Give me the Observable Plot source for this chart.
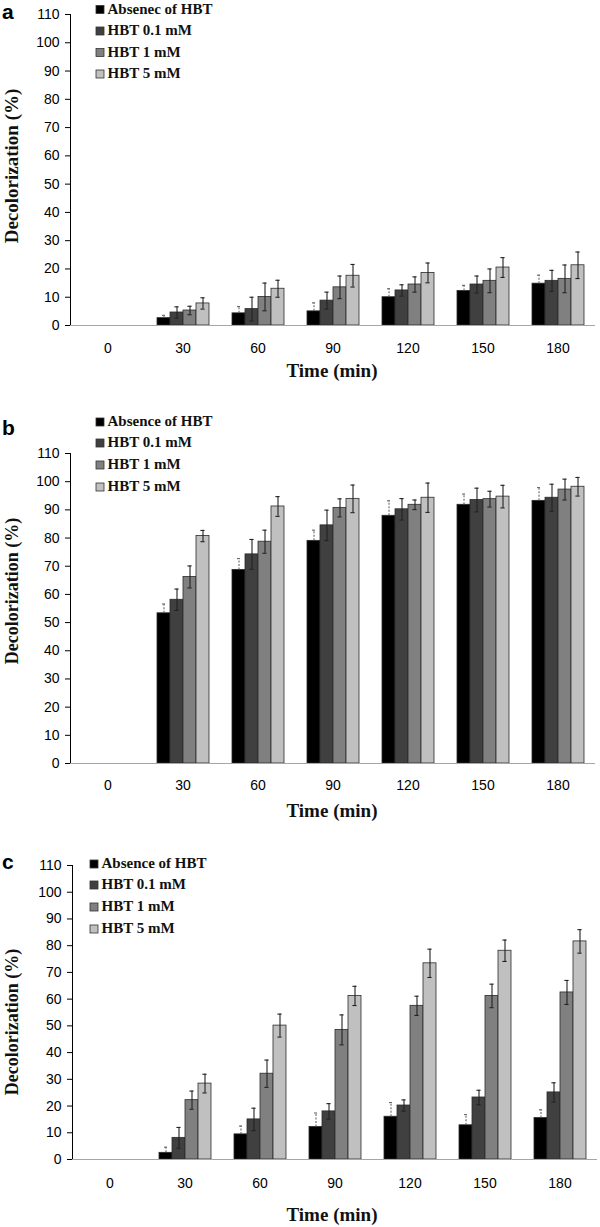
<!DOCTYPE html>
<html>
<head>
<meta charset="utf-8">
<script src="https://cdn.jsdelivr.net/npm/d3@7"></script>
<script src="https://cdn.jsdelivr.net/npm/@observablehq/plot@0.6"></script>
<style>
  body { margin: 0; background: #fff; }
  #root { position: relative; width: 600px; height: 1227px; overflow: hidden; background: #fff; }
  .panel { position: absolute; left: 0; width: 600px; }
  .panel > svg { position: absolute; left: 0; top: 0; overflow: visible; }
  g[aria-label="y-axis tick"] { stroke: #9a9a9a; }
  g[aria-label="frame"] { stroke: #9a9a9a; }
</style>
</head>
<body>
<div id="root"></div>
<script>
// ---------- data ----------
const times = ["0", "30", "60", "90", "120", "150", "180"];
const seriesA = ["Absenec of HBT", "HBT 0.1 mM", "HBT 1 mM", "HBT 5 mM"];
const seriesBC = ["Absence of HBT", "HBT 0.1 mM", "HBT 1 mM", "HBT 5 mM"];
const grays = ["#000000", "#404040", "#808080", "#c0c0c0"];
const yTicks = [0, 10, 20, 30, 40, 50, 60, 70, 80, 90, 100, 110];

// panel a
const aAbsence = [0, 2.6, 4.3, 5.0, 10.0, 12.2, 14.8];
const aHBT01   = [0, 4.6, 5.8, 8.8, 12.4, 14.5, 15.8];
const aHBT1    = [0, 5.3, 10.1, 13.5, 14.5, 15.8, 16.5];
const aHBT5    = [0, 7.8, 13.0, 17.6, 18.6, 20.5, 21.3];
const aAbsenceErr = [0, 1.0, 2.4, 3.0, 3.0, 2.0, 3.0];
const aHBT01Err   = [0, 2.0, 4.2, 3.0, 2.0, 3.0, 3.7];
const aHBT1Err    = [0, 1.5, 4.9, 4.0, 2.7, 4.2, 4.9];
const aHBT5Err    = [0, 2.0, 3.0, 4.0, 3.5, 3.5, 4.7];

// panel b
const bAbsence = [0, 53.3, 68.7, 79.0, 87.9, 91.8, 93.2];
const bHBT01   = [0, 58.1, 74.2, 84.5, 90.2, 93.5, 94.3];
const bHBT1    = [0, 66.2, 78.7, 90.7, 91.8, 93.8, 97.2];
const bHBT5    = [0, 80.7, 91.2, 93.9, 94.3, 94.7, 98.2];
const bAbsenceErr = [0, 3.3, 4.0, 3.8, 5.3, 3.8, 4.7];
const bHBT01Err   = [0, 3.8, 5.3, 5.4, 3.8, 4.2, 4.8];
const bHBT1Err    = [0, 3.9, 4.1, 3.2, 1.7, 2.8, 3.7];
const bHBT5Err    = [0, 2.0, 3.5, 4.9, 5.2, 4.0, 3.3];

// panel c
const cAbsence = [0, 2.5, 9.4, 12.2, 16.0, 12.8, 15.5];
const cHBT01   = [0, 8.1, 15.0, 18.0, 20.2, 23.2, 25.1];
const cHBT1    = [0, 22.2, 32.1, 48.5, 57.5, 61.2, 62.5];
const cHBT5    = [0, 28.4, 50.1, 61.2, 73.4, 78.1, 81.6];
const cAbsenceErr = [0, 2.1, 3.1, 5.2, 5.3, 4.0, 3.1];
const cHBT01Err   = [0, 3.9, 4.2, 2.9, 2.1, 2.7, 3.6];
const cHBT1Err    = [0, 3.4, 5.1, 5.6, 3.6, 4.4, 4.5];
const cHBT5Err    = [0, 3.5, 4.3, 3.6, 5.3, 4.0, 4.4];

const yLabel = "Decolorization (%)";
const xLabel = "Time (min)";

// ---------- layout ----------
const panels = [
  { letter: "a", top: 0, height: 410, mt: 14, mb: 85, mr: 5, tp: 18,
    series: seriesA, values: [aAbsence, aHBT01, aHBT1, aHBT5], errors: [aAbsenceErr, aHBT01Err, aHBT1Err, aHBT5Err],
    letterY: 18.5, legX: 96, legBase: [13.5, 35, 56.5, 78], yLabY: 166, yLabSize: 19, xTitleY: 377 },
  { letter: "b", top: 410, height: 412, mt: 43, mb: 59, mr: 5, tp: 17,
    series: seriesBC, values: [bAbsence, bHBT01, bHBT1, bHBT5], errors: [bAbsenceErr, bHBT01Err, bHBT1Err, bHBT5Err],
    letterY: 25, legX: 96, legBase: [16, 37, 59, 81], yLabY: 181, yLabSize: 18, xTitleY: 407 },
  { letter: "c", top: 822, height: 405, mt: 43, mb: 68, mr: 1, tp: 18.5,
    series: seriesBC, values: [cAbsence, cHBT01, cHBT1, cHBT5], errors: [cAbsenceErr, cHBT01Err, cHBT1Err, cHBT5Err],
    letterY: 47, legX: 90, legBase: [46, 67, 89, 111], yLabY: 200, yLabSize: 18, xTitleY: 399 }
];

const root = document.getElementById("root");
const serif = '"Liberation Serif", "Times New Roman", serif';
const sans = '"Liberation Sans", Arial, sans-serif';

for (const cfg of panels) {
  const rows = [];
  times.forEach((t, i) => cfg.series.forEach((s, j) =>
    rows.push({ time: t, series: s, value: cfg.values[j][i], err: cfg.errors[j][i] })));
  const errRows = rows.filter(d => d.err > 0);
  const first = cfg.series[0];
  const errMain = errRows.filter(d => d.series !== first);
  const errFirst = errRows.filter(d => d.series === first);

  const chart = Plot.plot({
    width: 600,
    height: cfg.height,
    marginTop: cfg.mt,
    marginBottom: cfg.mb,
    marginLeft: 70,
    marginRight: cfg.mr,
    style: { fontFamily: sans, fontSize: "14px", color: "#000", background: "transparent" },
    fx: { domain: times, paddingInner: 0, paddingOuter: 0, label: null, axis: "bottom", tickSize: 0, tickPadding: cfg.tp },
    x: { domain: cfg.series, paddingInner: 0, paddingOuter: 0.727, axis: null },
    y: { domain: [0, 110], ticks: yTicks, tickSize: 5, tickPadding: 6, label: null, line: true },
    color: { domain: cfg.series, range: grays },
    marks: [
      Plot.barY(rows, { fx: "time", x: "series", y: "value", fill: "series", stroke: "#2b2b2b", strokeWidth: 0.8 }),
      Plot.ruleY([0], { stroke: "#a6a6a6", strokeWidth: 1.2 }),
      Plot.ruleX(errMain, { fx: "time", x: "series", y1: d => d.value - d.err, y2: d => d.value + d.err, stroke: "#222", strokeWidth: 1.1 }),
      Plot.tickY(errMain, { fx: "time", x: "series", y: d => d.value + d.err, insetLeft: 4.4, insetRight: 4.4, stroke: "#222", strokeWidth: 1.1 }),
      Plot.tickY(errMain, { fx: "time", x: "series", y: d => d.value - d.err, insetLeft: 4.4, insetRight: 4.4, stroke: "#222", strokeWidth: 1.1 }),
      Plot.ruleX(errFirst, { fx: "time", x: "series", y1: "value", y2: d => d.value + d.err, stroke: "#666", strokeWidth: 1.1, strokeDasharray: "2,1.5" }),
      Plot.tickY(errFirst, { fx: "time", x: "series", y: d => d.value + d.err, insetLeft: 5, insetRight: 5, stroke: "#666", strokeWidth: 1.1 })
    ]
  });

  const div = document.createElement("div");
  div.className = "panel";
  div.style.top = cfg.top + "px";
  div.style.height = cfg.height + "px";
  div.appendChild(chart);

  // overlay: panel letter, legend, axis titles
  const ov = d3.create("svg").attr("width", 600).attr("height", cfg.height)
    .style("position", "absolute").style("left", "0px").style("top", "0px")
    .style("pointer-events", "none");
  ov.append("text").attr("x", 2).attr("y", cfg.letterY)
    .attr("font-family", sans).attr("font-weight", "bold").attr("font-size", 21).text(cfg.letter);
  const leg = ov.append("g");
  cfg.series.forEach((s, j) => {
    leg.append("rect").attr("x", cfg.legX).attr("y", cfg.legBase[j] - 8).attr("width", 8).attr("height", 8)
      .attr("fill", grays[j]).attr("stroke", "#333").attr("stroke-width", 0.8);
    leg.append("text").attr("x", cfg.legX + 11.5).attr("y", cfg.legBase[j])
      .attr("font-family", serif).attr("font-weight", "bold").attr("font-size", 15).attr("fill", "#111").text(s);
  });
  ov.append("text").attr("transform", `translate(17.5,${cfg.yLabY}) rotate(-90)`).attr("text-anchor", "middle")
    .attr("font-family", serif).attr("font-weight", "bold").attr("font-size", cfg.yLabSize).attr("fill", "#111").text(yLabel);
  ov.append("text").attr("x", 332).attr("y", cfg.xTitleY).attr("text-anchor", "middle")
    .attr("font-family", serif).attr("font-weight", "bold").attr("font-size", 19).attr("fill", "#111").text(xLabel);
  div.appendChild(ov.node());
  root.appendChild(div);
}
</script>
</body>
</html>
